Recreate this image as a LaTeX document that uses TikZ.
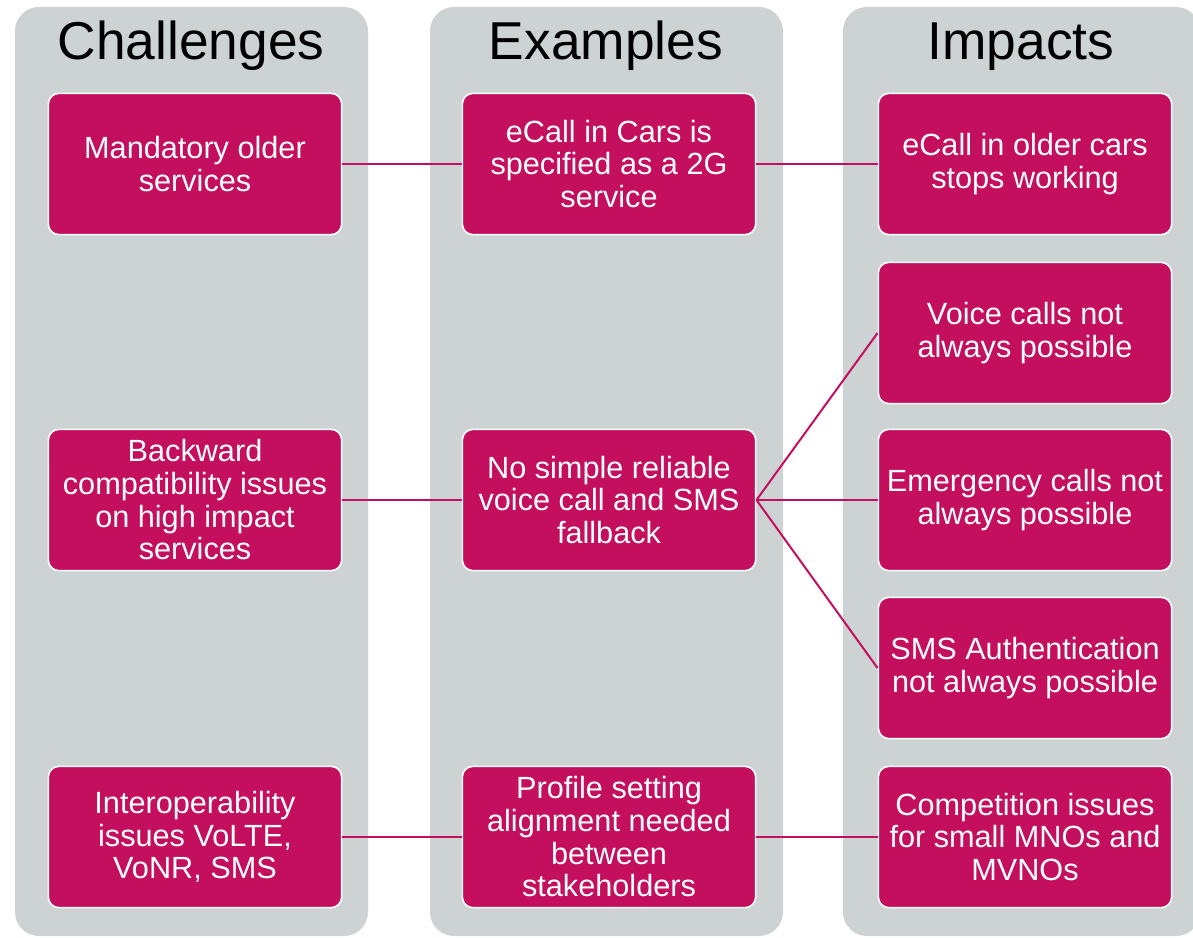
\documentclass[tikz,border=0pt]{standalone}
\usepackage{fontspec}
\setmainfont{Liberation Sans}
\definecolor{berry}{RGB}{196,15,94}
\definecolor{panel}{RGB}{205,211,211}
\begin{document}
\begin{tikzpicture}[
    x = 0.75pt, y = -0.75pt,
    column/.style = {fill=panel, rounded corners=18pt},
    title/.style = {anchor=base, font=\fontsize{40}{44}\selectfont},
    box/.style = {draw=white, line width=1.2pt, fill=berry, rounded corners=8pt,
      text=white, align=center, minimum width=220pt, minimum height=106pt,
      inner sep=2pt, font=\fontsize{23}{24.5}\selectfont},
    link/.style = {draw=berry, line width=1.5pt},
  ]
  \useasboundingbox (0,0) rectangle (1193,938);
  % columns
  \fill[column] (15,7) rectangle (368,936);
  \fill[column] (430,7) rectangle (783,936);
  \fill[column] (843,7) rectangle (1200,936);
  \node[title] (hc) at (191,60) {Challenges};
  \node[title] (he) at (606,60) {Examples};
  \node[title] (hi) at (1021,60) {Impacts};
  % challenges
  \node[box] (c1) at (195,164) {Mandatory older\\services};
  \node[box] (c2) at (195,500) {Backward\\compatibility issues\\on high impact\\services};
  \node[box] (c3) at (195,837) {Interoperability\\issues VoLTE,\\VoNR, SMS};
  % examples
  \node[box] (e1) at (609,164) {eCall in Cars is\\specified as a 2G\\service};
  \node[box] (e2) at (609,500) {No simple reliable\\voice call and SMS\\fallback};
  \node[box] (e3) at (609,837) {Profile setting\\alignment needed\\between\\stakeholders};
  % impacts
  \node[box] (i1) at (1025,164) {eCall in older cars\\stops working};
  \node[box] (i2) at (1025,333) {Voice calls not\\always possible};
  \node[box] (i3) at (1025,500) {Emergency calls not\\always possible};
  \node[box] (i4) at (1025,668) {SMS Authentication\\not always possible};
  \node[box] (i5) at (1025,837) {Competition issues\\for small MNOs and\\MVNOs};
  % links
  \draw[link] (c1) -- (e1) -- (i1);
  \draw[link] (c2) -- (e2);
  \draw[link] (c3) -- (e3) -- (i5);
  \draw[link] (e2.east) -- (i2.west);
  \draw[link] (e2.east) -- (i3.west);
  \draw[link] (e2.east) -- (i4.west);
\end{tikzpicture}
\end{document}
